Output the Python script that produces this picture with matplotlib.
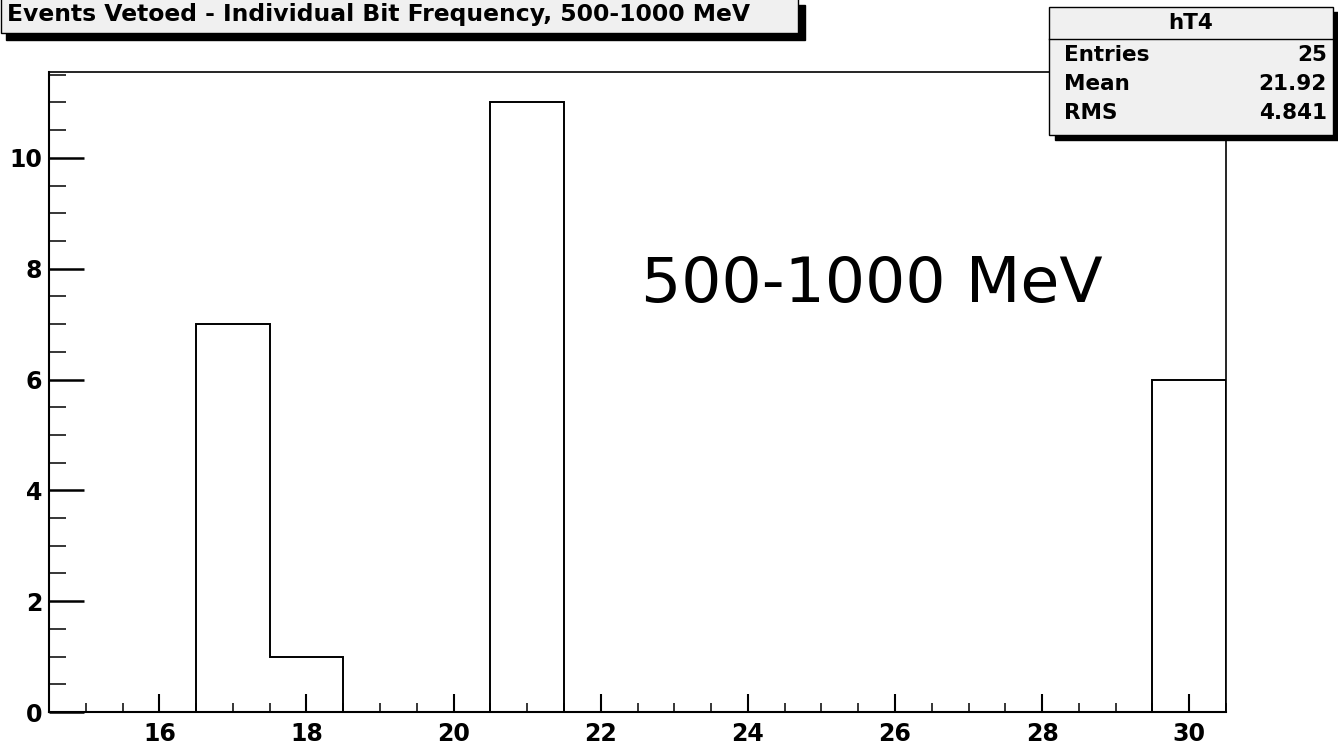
import matplotlib
matplotlib.use("Agg")
import matplotlib.pyplot as plt
from matplotlib.patches import Rectangle
from matplotlib.ticker import MultipleLocator
import numpy as np

# ---- data ----
bin_edges = np.arange(14.5, 31.0, 1.0)
counts = [0, 0, 7, 1, 0, 0, 11, 0, 0, 0, 0, 0, 0, 0, 0, 6]
x_ticks = [16, 18, 20, 22, 24, 26, 28, 30]
y_ticks = [0, 2, 4, 6, 8, 10]
title = "Events Vetoed - Individual Bit Frequency, 500-1000 MeV"
stats_name = "hT4"
stats_labels = ["Entries", "Mean", "RMS"]
stats_values = ["25", "21.92", "4.841"]
annotation = "500-1000 MeV"

W, H = 1338, 745
plt.rcParams['font.family'] = ['DejaVu Sans']
fig = plt.figure(figsize=(W / 100, H / 100), dpi=100)


def fx(x):
    return x / W


def fy(y):
    return 1 - y / H


ax = fig.add_axes([fx(49), fy(712), fx(1226) - fx(49), fy(72) - fy(712)])
ax.stairs(counts, bin_edges, baseline=0, color='black', linewidth=1.4)
ax.set_xlim(14.5, 30.5)
ax.set_ylim(0, 11.55)
ax.set_xticks(x_ticks)
ax.set_yticks(y_ticks)
ax.set_xticklabels([str(t) for t in x_ticks], fontsize=17, fontweight='bold')
ax.set_yticklabels([str(t) for t in y_ticks], fontsize=17, fontweight='bold')
ax.xaxis.set_minor_locator(MultipleLocator(0.5))
ax.yaxis.set_minor_locator(MultipleLocator(0.5))
ax.tick_params(axis='x', which='major', direction='in', length=13, width=1.5, pad=7)
ax.tick_params(axis='x', which='minor', direction='in', length=6.5, width=1.1)
ax.tick_params(axis='y', which='major', direction='in', length=25, width=1.8, pad=5)
ax.tick_params(axis='y', which='minor', direction='in', length=12.5, width=1.1)
for s in ['left', 'bottom']:
    ax.spines[s].set_linewidth(1.5)
for s in ['top', 'right']:
    ax.spines[s].set_linewidth(1.2)

# ---- title box ----
fig.patches.append(Rectangle((fx(6), fy(40)), fx(805) - fx(6), fy(5) - fy(40),
                             transform=fig.transFigure, facecolor='black',
                             edgecolor='black', zorder=5))
fig.patches.append(Rectangle((fx(1), fy(33)), fx(798) - fx(1), fy(-2) - fy(33),
                             transform=fig.transFigure, facecolor='#f0f0f0',
                             edgecolor='black', linewidth=1.0, zorder=6))
fig.text(fx(7), fy(15), title, fontsize=16.9, fontweight='bold',
         ha='left', va='center', zorder=7)

# ---- stats box ----
fig.patches.append(Rectangle((fx(1055), fy(140)), fx(1338) - fx(1055), fy(12) - fy(140),
                             transform=fig.transFigure, facecolor='black',
                             edgecolor='black', zorder=5))
fig.patches.append(Rectangle((fx(1049), fy(135)), fx(1333) - fx(1049), fy(7) - fy(135),
                             transform=fig.transFigure, facecolor='#f0f0f0',
                             edgecolor='black', linewidth=1.0, zorder=6))
fig.add_artist(plt.Line2D([fx(1049), fx(1333)], [fy(39), fy(39)],
                          transform=fig.transFigure, color='black',
                          linewidth=1.0, zorder=7))
fig.text(fx(1191), fy(23), stats_name, fontsize=15.5, fontweight='bold',
         ha='center', va='center', zorder=7)
row_y = [55, 84, 113]
for lab, val, yy in zip(stats_labels, stats_values, row_y):
    fig.text(fx(1064), fy(yy), lab, fontsize=15.5, fontweight='bold',
             ha='left', va='center', zorder=7)
    fig.text(fx(1327), fy(yy), val, fontsize=15.5, fontweight='bold',
             ha='right', va='center', zorder=7)

# ---- annotation ----
fig.text(fx(641), fy(302), annotation, fontsize=45.5, ha='left', va='baseline')

fig.savefig("out.png", dpi=100, facecolor='white')
